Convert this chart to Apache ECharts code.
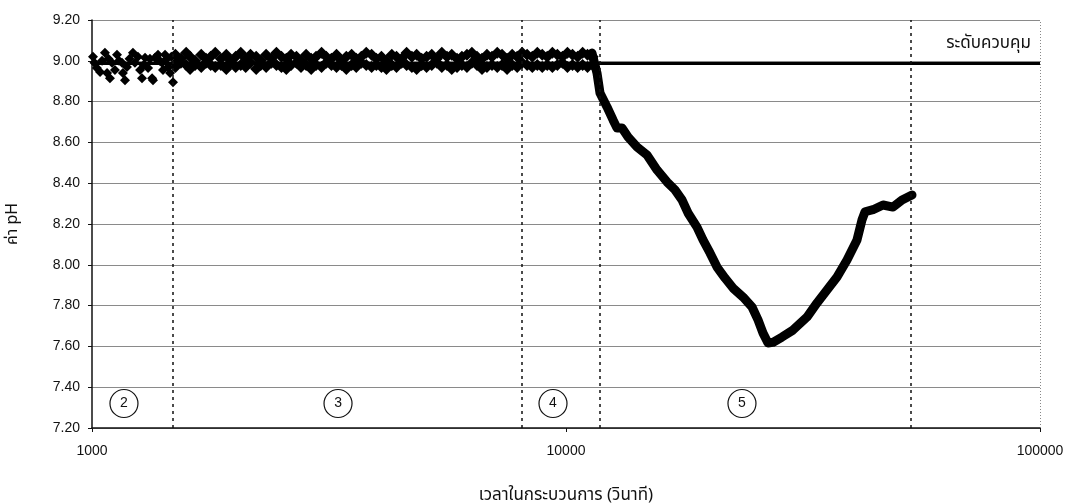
<!DOCTYPE html>
<html>
<head>
<meta charset="utf-8">
<script src="https://cdn.jsdelivr.net/npm/echarts@6/dist/echarts.min.js"></script>
<style>
html,body{margin:0;padding:0;background:#fff;}
#chart{width:1068px;height:504px;}
</style>
</head>
<body>
<div id="chart"></div>
<script>
// ---- data ----
var yTicks = [7.20, 7.40, 7.60, 7.80, 8.00, 8.20, 8.40, 8.60, 8.80, 9.00, 9.20];
var xTickLabels = [1000, 10000, 100000];

// phase 2: scattered readings
var earlyTime = [1005,1012,1024,1040,1050,1065,1076,1083,1091,1102,1118,1129,1140,1157,1162,1174,1185,1200,1220,1232,1250,1263,1275,1285,1294,1313,1325,1339,1345,1358,1378,1390,1405,1412,1426,1440,1447,1461,1470,1482,1497];
var earlyPH   = [9.02,8.99,8.965,8.945,9.00,9.04,8.94,9.01,8.915,8.99,8.955,9.03,9.00,8.99,8.94,8.905,8.97,9.01,9.04,8.99,9.02,8.955,8.915,8.98,9.015,8.965,9.01,8.915,8.905,9.015,9.03,9.00,8.99,8.955,9.03,9.01,8.97,8.94,9.02,8.895,8.99];

// phases 3-4: dense band of readings (upper and lower envelope of the band)
var bandTime = [1500,1540,1580,1610,1650,1700,1740,1780,1820,1870,1920,1960,2010,2060,2110,2160,2220,2270,2330,2390,2450,2510,2570,2630,2700,2760,2830,2900,2970,3050,3120,3200,3280,3360,3440,3530,3610,3700,3790,3890,3980,4080,4180,4290,4390,4500,4610,4730,4840,4960,5080,5210,5340,5470,5610,5740,5890,6030,6180,6330,6490,6650,6810,6980,7160,7330,7510,7700,7890,8080,8280,8490,8700,8910,9130,9360,9590,9830,10070,10320,10580,10840,11100,11380];
var bandHigh = [9.03,9.01,9.04,9.02,9.00,9.03,9.01,9.02,9.04,9.01,9.03,9.00,9.02,9.04,9.01,9.03,9.02,9.00,9.03,9.01,9.04,9.02,9.01,9.03,9.02,9.00,9.03,9.01,9.02,9.04,9.02,9.01,9.03,9.00,9.02,9.03,9.01,9.02,9.04,9.03,9.01,9.02,9.00,9.03,9.02,9.01,9.04,9.02,9.03,9.01,9.02,9.03,9.01,9.04,9.02,9.03,9.01,9.02,9.03,9.04,9.02,9.01,9.03,9.02,9.04,9.03,9.01,9.03,9.02,9.04,9.03,9.02,9.04,9.03,9.02,9.04,9.03,9.02,9.04,9.03,9.02,9.04,9.03,9.02];
var bandLow  = [8.97,8.99,8.98,8.96,8.98,8.97,8.99,8.98,8.97,8.98,8.96,8.99,8.97,8.98,8.97,8.99,8.96,8.98,8.97,8.99,8.98,8.97,8.96,8.98,8.99,8.97,8.98,8.96,8.98,8.97,8.99,8.98,8.97,8.98,8.96,8.98,8.97,8.99,8.98,8.97,8.98,8.97,8.96,8.98,8.97,8.99,8.98,8.97,8.96,8.98,8.97,8.98,8.99,8.97,8.98,8.96,8.97,8.98,8.97,8.99,8.98,8.96,8.97,8.98,8.97,8.98,8.96,8.98,8.97,8.99,8.98,8.97,8.98,8.97,8.98,8.97,8.98,8.99,8.97,8.98,8.97,8.98,8.97,8.98];

// phase 5: drop and recovery
var curveTime = [11346,11625,11796,12204,12567,12814,13129,13518,14122,14824,15559,16334,16980,17568,18088,18896,19455,20129,20826,21650,22509,23630,24686,25417,26041,26681,27335,28560,30120,32245,33851,35535,37306,39160,41110,42120,42740,44430,46650,48970,51160,53700];
var curvePH   = [9.038,8.94,8.842,8.774,8.71,8.67,8.67,8.626,8.577,8.538,8.465,8.406,8.367,8.318,8.254,8.185,8.122,8.058,7.989,7.935,7.886,7.842,7.793,7.73,7.665,7.617,7.62,7.646,7.68,7.744,7.813,7.876,7.94,8.024,8.122,8.22,8.26,8.27,8.293,8.283,8.318,8.342];

// control level
var controlLevel = 8.99;
var controlLabel = 'ระดับควบคุม';

// phase boundaries (s)
var phaseBounds = [1480, 8050, 11800, 53500];
// phase markers
var phaseNames = ['2', '3', '4', '5'];
var phaseTime  = [1168, 3304, 9388, 23510];
var phasePH    = [7.32, 7.32, 7.32, 7.32];

// ---- build ----
function pairs(xs, ys) {
  var out = [];
  for (var i = 0; i < Math.min(xs.length, ys.length); i++) out.push([xs[i], ys[i]]);
  return out;
}
var bandData = pairs(bandTime, bandHigh).concat(pairs(bandTime, bandLow));
var phaseData = [];
for (var i = 0; i < phaseNames.length; i++) phaseData.push({value: [phaseTime[i], phasePH[i]], name: phaseNames[i]});

var numFont = 'Liberation Sans, Arial, sans-serif';
var thaiFont = 'Noto Sans Thai, Tahoma, sans-serif';

var chart = echarts.init(document.getElementById('chart'), null, {renderer: 'canvas'});
chart.setOption({
  animation: false,
  backgroundColor: '#ffffff',
  grid: {left: 92, right: 28, top: 20, bottom: 76, containLabel: false, outerBoundsMode: 'none'},
  xAxis: {
    type: 'log', logBase: 10, min: 1000, max: 100000,
    name: 'เวลาในกระบวนการ (วินาที)', nameLocation: 'middle', nameGap: 60,
    nameTextStyle: {fontFamily: thaiFont, fontSize: 17, color: '#111'},
    axisLine: {show: true, lineStyle: {color: '#111', width: 1.5}},
    axisTick: {show: true, length: 4, lineStyle: {color: '#111'}},
    axisLabel: {margin: 16, fontFamily: numFont, fontSize: 14, color: '#111',
      formatter: function (v) { var r = Math.round(v); return xTickLabels.indexOf(r) >= 0 ? String(r) : ''; }},
    splitLine: {show: false}
  },
  yAxis: {
    type: 'value', min: 7.2, max: 9.2, interval: 0.2,
    name: 'ค่า pH', nameLocation: 'middle', nameGap: 70, nameRotate: 90,
    nameTextStyle: {fontFamily: thaiFont, fontSize: 16, color: '#111'},
    axisLine: {show: true, lineStyle: {color: '#111', width: 1.5}},
    axisTick: {show: true, length: 4, inside: false, lineStyle: {color: '#111'}},
    axisLabel: {margin: 12, fontFamily: numFont, fontSize: 14, color: '#111',
      formatter: function (v) { return v.toFixed(2); }},
    splitLine: {show: true, lineStyle: {color: '#8a8a8a', width: 1}}
  },
  series: [
    {
      name: 'control', type: 'line', data: [], silent: true,
      markLine: {
        silent: true, symbol: 'none', animation: false,
        data: [
          {yAxis: controlLevel, lineStyle: {color: '#000', width: 3, type: 'solid'},
           label: {show: true, position: 'insideEndTop', formatter: controlLabel, fontFamily: thaiFont, fontSize: 17, color: '#111', distance: [9, 10]}}
        ].concat(phaseBounds.map(function (b) {
          return {xAxis: b, lineStyle: {color: '#111', width: 1.5, type: [3, 4]}, label: {show: false}};
        })).concat([
          {xAxis: 100000, lineStyle: {color: '#888', width: 1, type: [1, 2]}, label: {show: false}}
        ])
      }
    },
    {
      name: 'early', type: 'scatter', symbol: 'diamond', symbolSize: 10,
      itemStyle: {color: '#000', opacity: 1}, data: pairs(earlyTime, earlyPH), z: 3
    },
    {
      name: 'band', type: 'scatter', symbol: 'diamond', symbolSize: 12,
      itemStyle: {color: '#000', opacity: 1}, data: bandData, z: 3
    },
    {
      name: 'curve', type: 'line', symbol: 'none', smooth: false,
      lineStyle: {color: '#000', width: 9, cap: 'round', join: 'round'},
      data: pairs(curveTime, curvePH), z: 3
    },
    {
      name: 'phases', type: 'scatter', symbol: 'circle', symbolSize: 28,
      itemStyle: {color: '#fff', borderColor: '#111', borderWidth: 1.2, opacity: 1},
      label: {show: true, position: 'inside', formatter: function (p) { return p.name; },
        fontFamily: numFont, fontSize: 14, color: '#111'},
      data: phaseData, z: 4
    }
  ]
});
</script>
</body>
</html>
